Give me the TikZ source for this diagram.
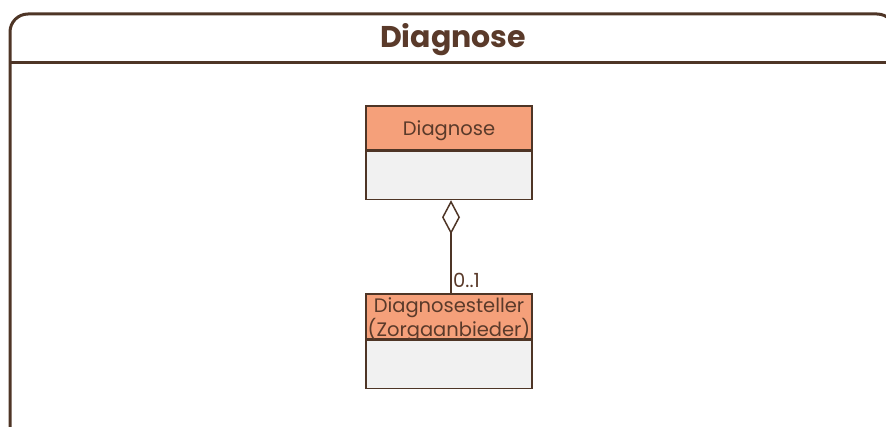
\documentclass[tikz,border=0pt]{standalone}
\usepackage{fontspec}
\setmainfont{Poppins}
\usetikzlibrary{arrows.meta}
\definecolor{frame}{HTML}{4E3526}
\definecolor{hdr}{HTML}{F5A07A}
\definecolor{bodyfill}{HTML}{F1F1F1}
\definecolor{txt}{HTML}{5A3A2A}
\tikzset{
  hdrbox/.style={draw=frame, line width=1.5pt, fill=hdr, minimum width=166pt, inner sep=0pt},
  hdrtext/.style={text=txt, font=\fontsize{19.5}{22}\selectfont, align=center, inner sep=0pt, yshift=-3pt},
  bodybox/.style={draw=frame, line width=1.5pt, fill=bodyfill, minimum width=166pt, minimum height=48pt, inner sep=0pt},
  conn/.style={draw=frame, line width=1.5pt},
  mult/.style={text=txt, font=\fontsize{19.5}{22}\selectfont, inner sep=0pt}
}
\begin{document}
\begin{tikzpicture}[x=1pt,y=-1pt]
\useasboundingbox (0,0) rectangle (886,427);
\begin{scope}
\clip (0,0) rectangle (886,427);
\draw[frame, line width=3pt, rounded corners=18pt] (10,440) -- (10,14) -- (895,14) -- (895,440);
\draw[frame, line width=3pt] (10,63) -- (900,63);
\end{scope}
\node[text=txt, font=\fontsize{30}{34}\selectfont\bfseries] (title) at (453,40) {Diagnose};
% class Diagnose
\node[hdrbox, minimum height=44pt, label={[hdrtext]center:Diagnose}] (d1h) at (449,128) {};
\node[bodybox, anchor=north] (d1b) at (d1h.south) {};
% class Diagnosesteller
\node[hdrbox, minimum height=45pt, label={[hdrtext]center:Diagnosesteller\\(Zorgaanbieder)}] (d2h) at (449,316.5) {};
\node[bodybox, anchor=north] (d2b) at (d2h.south) {};
\draw[conn, {Diamond[open, length=34pt, width=18pt, line width=1.5pt]}-] ([xshift=2pt]d1b.south) -- ([xshift=2pt]d2h.north);
\node[mult, anchor=base west] (m) at ([xshift=4pt,yshift=6pt]d2h.north) {0..1};
\end{tikzpicture}
\end{document}
